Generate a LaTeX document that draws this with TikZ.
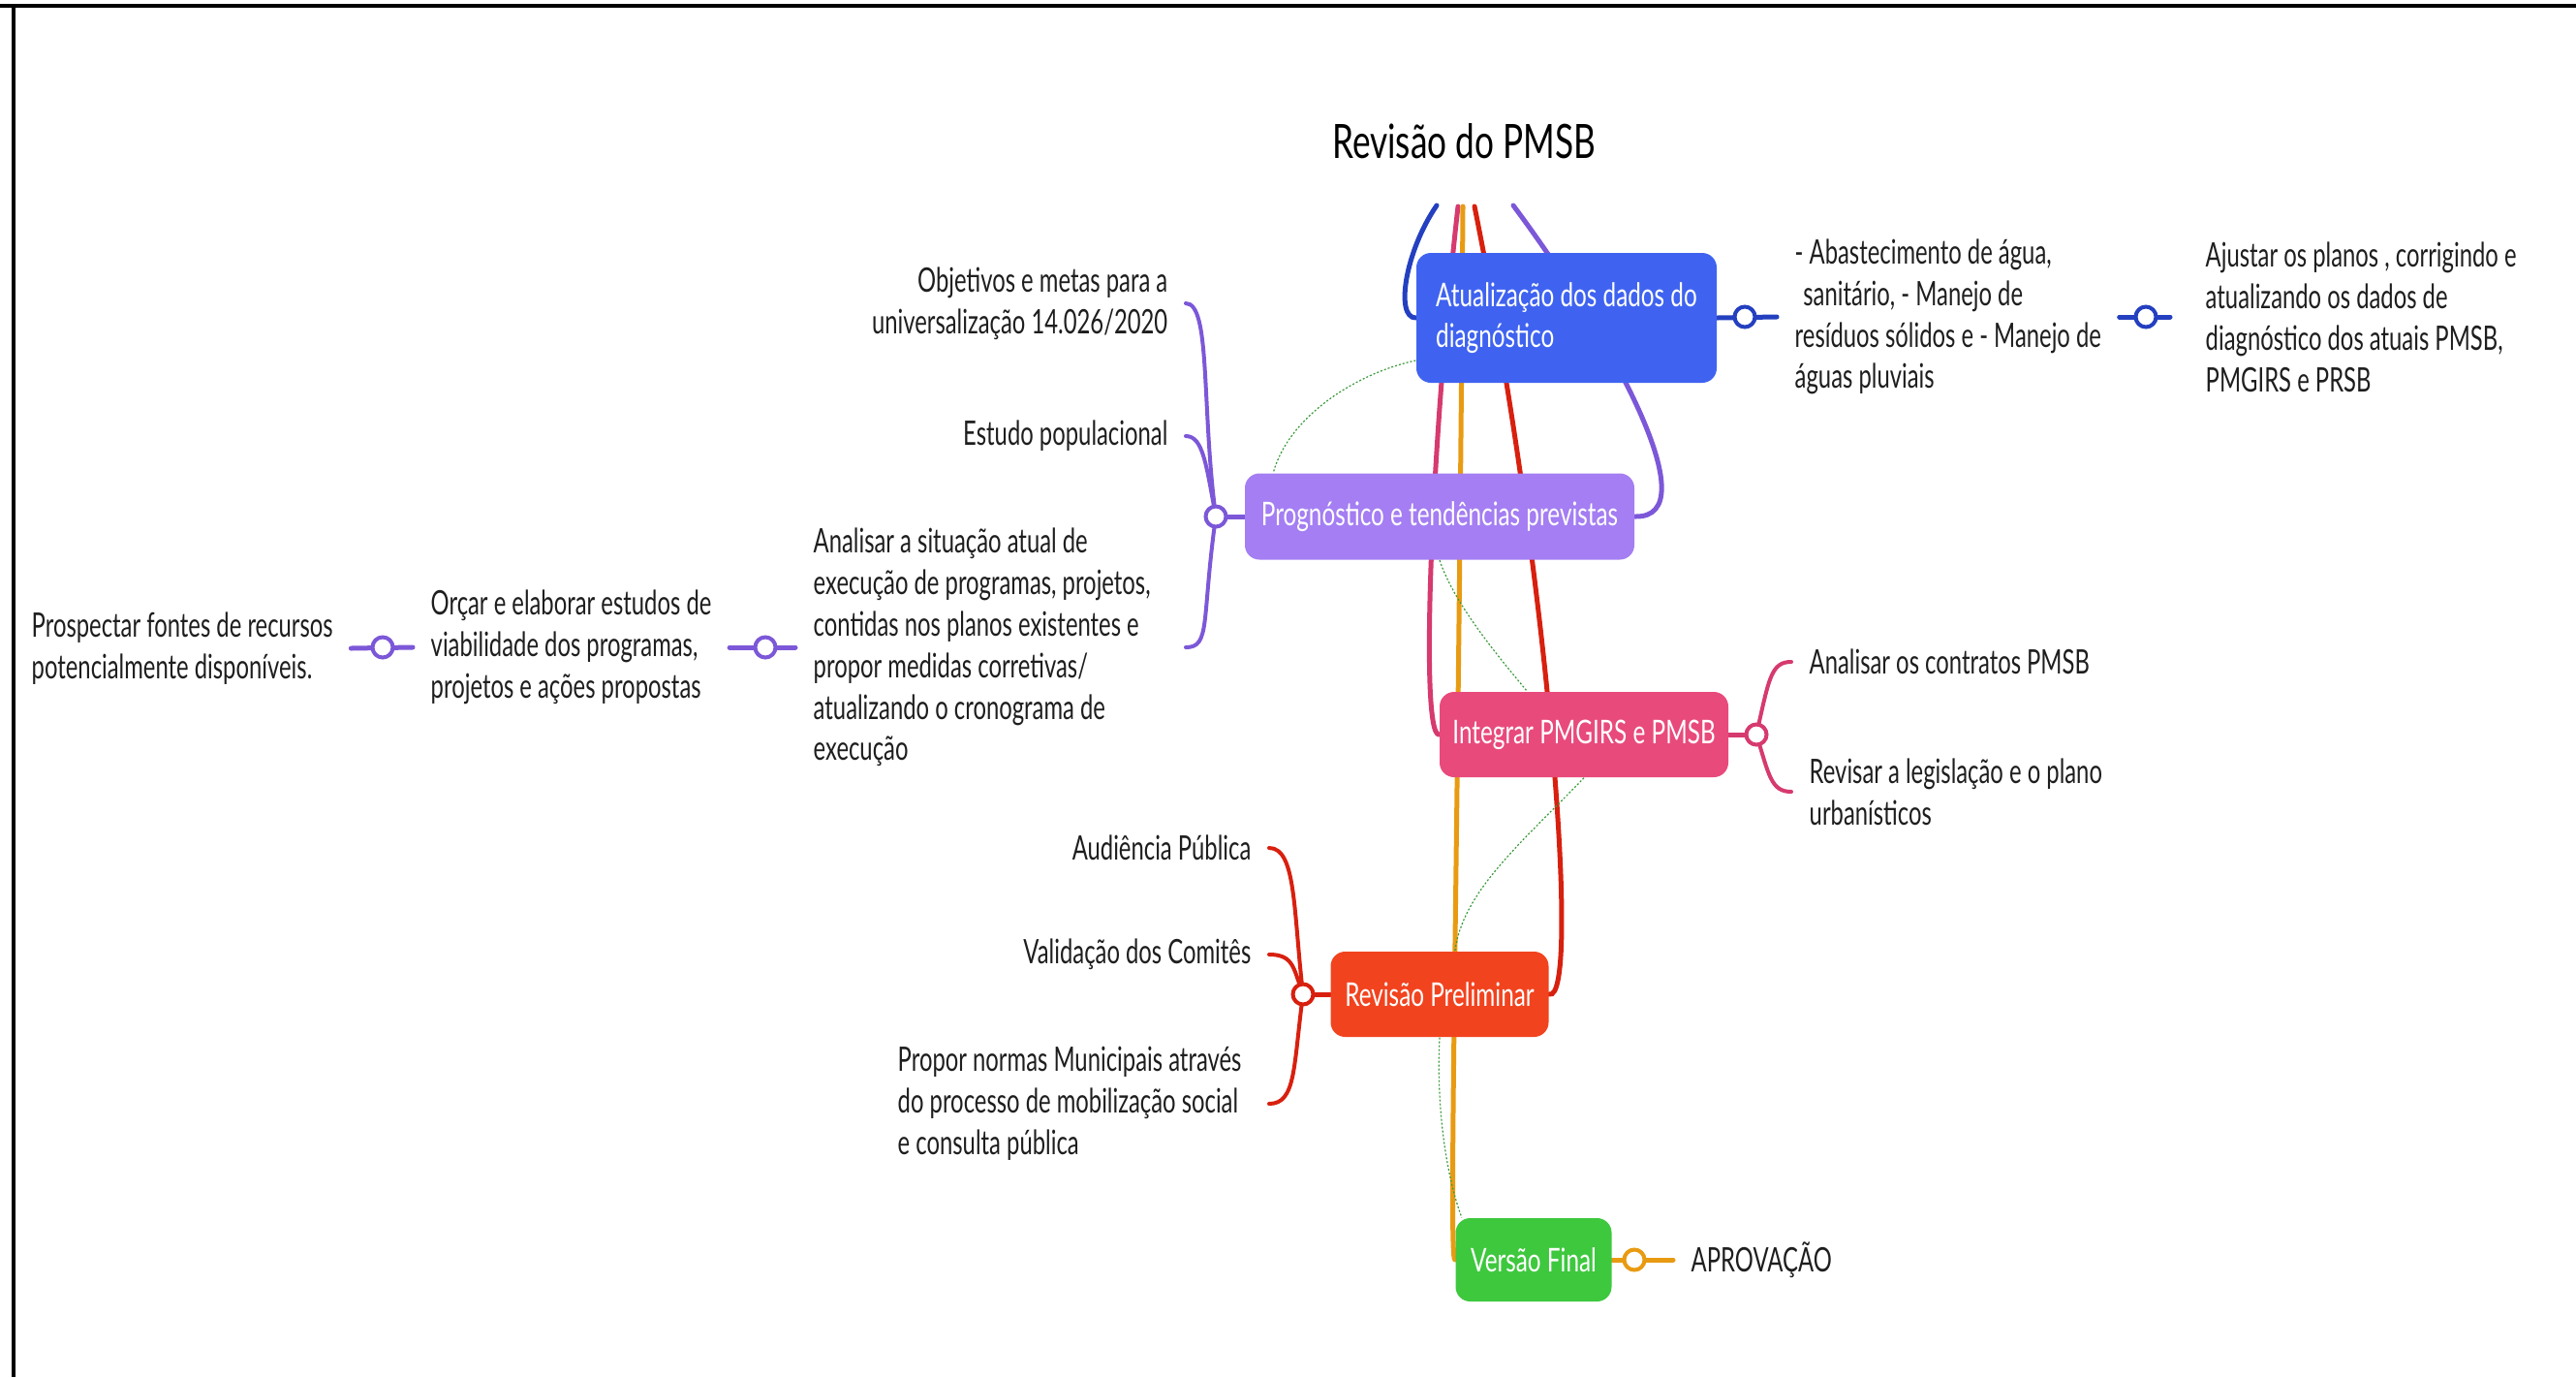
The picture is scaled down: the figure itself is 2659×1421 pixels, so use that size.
\documentclass[tikz,border=0pt]{standalone}
\usepackage{fontspec}
\setmainfont{Lato}[FakeStretch=0.72]
\newfontfamily\leaffam{Lato}[FakeStretch=0.685]
\usetikzlibrary{calc}
\definecolor{bluebox}{HTML}{3F63F0}
\definecolor{blueln}{HTML}{2440C0}
\definecolor{purbox}{HTML}{A47EF2}
\definecolor{purln}{HTML}{7C58D8}
\definecolor{pinkbox}{HTML}{E84A7C}
\definecolor{pinkln}{HTML}{D63A6E}
\definecolor{redbox}{HTML}{F2431F}
\definecolor{redln}{HTML}{D8200F}
\definecolor{greenbox}{HTML}{3EC83E}
\definecolor{orangeln}{HTML}{E89B12}
\definecolor{relgreen}{HTML}{3A9A3A}
\definecolor{txt}{HTML}{1E1E1E}
\newcommand\mmleaffont{\leaffam\fontsize{9.9}{12.2}\selectfont}
\newcommand\mmboxfont{\fontsize{9.6}{12}\selectfont}
\pgfdeclarelayer{bg}
\pgfsetlayers{bg,main}
\tikzset{
  box/.style={rounded corners=1.5mm, inner sep=0pt, text=white, font=\mmboxfont},
  leaf/.style={inner xsep=1.8mm, inner ysep=0pt, text=txt, font=\mmleaffont},
  knob/.style={circle, draw, line width=0.4mm, fill=white, minimum size=2.1mm, inner sep=0pt},
  branch/.style={line width=0.5mm, line cap=round},
  brace/.style={line width=0.4mm, line cap=round},
  rel/.style={draw=relgreen, line width=0.12mm, dash pattern=on 0.2mm off 0.2mm},
}
\begin{document}
\begin{tikzpicture}[x=0.1mm,y=-0.1mm]
\useasboundingbox (0,0) rectangle (2659,1421);
% frame
\draw[line width=0.45mm, black] (0,6) -- (2659,6);
\draw[line width=0.4mm, black] (14,6) -- (14,1421);

% root
\node[font=\fontsize{13.9}{16}\selectfont, text=black] (root) at (1511,146) {Revisão do PMSB};
\coordinate (r1) at (1483,212);
\coordinate (r2) at (1505,213);
\coordinate (r3) at (1510,213);
\coordinate (r4) at (1522,213);
\coordinate (r5) at (1562,212);

% boxes
\node[box, fill=bluebox, minimum width=31mm, minimum height=13.4mm, align=left] (blue) at (1617,328) {Atualização dos dados do\\diagnóstico};
\node[box, fill=purbox, minimum width=40.2mm, minimum height=8.9mm] (pur) at (1486,533) {Prognóstico e tendências previstas};
\node[box, fill=pinkbox, minimum width=29.8mm, minimum height=8.8mm] (pink) at (1635,758) {Integrar PMGIRS e PMSB};
\node[box, fill=redbox, minimum width=22.5mm, minimum height=8.8mm] (red) at (1486,1026) {Revisão Preliminar};
\node[box, fill=greenbox, minimum width=16.1mm, minimum height=8.6mm] (green) at (1583,1300) {Versão Final};

% knobs
\node[knob, draw=blueln] (bk1) at (1801,327) {};
\node[knob, draw=blueln] (bk2) at (2215,327) {};
\node[knob, draw=purln] (pk1) at (1255,533) {};
\node[knob, draw=purln] (pk2) at (790,668) {};
\node[knob, draw=purln] (pk3) at (395,668) {};
\node[knob, draw=pinkln] (kk) at (1813,758) {};
\node[knob, draw=redln] (rk) at (1345,1026) {};
\node[knob, draw=orangeln] (ok) at (1687,1300) {};

% leaves
\node[leaf, anchor=west, align=left] (b1) at (1834,327) {- Abastecimento de água,\\\hspace*{0.25em}sanitário, - Manejo de\\resíduos sólidos e - Manejo de\\águas pluviais};
\node[leaf, anchor=west, align=left] (b2) at (2258,327) {Ajustar os planos , corrigindo e\\atualizando os dados de\\diagnóstico dos atuais PMSB,\\PMGIRS e PRSB};
\node[leaf, anchor=east, align=right] (p1) at (1224,313) {Objetivos e metas para a\\universalização 14.026/2020};
\node[leaf, anchor=east] (p2) at (1224,450) {Estudo populacional};
\node[leaf, anchor=west, align=left] (p3) at (821,668) {Analisar a situação atual de\\execução de programas, projetos,\\contidas nos planos existentes e\\propor medidas corretivas/\\atualizando o cronograma de\\execução};
\node[leaf, anchor=west, align=left] (o1) at (426,668) {Orçar e elaborar estudos de\\viabilidade dos programas,\\projetos e ações propostas};
\node[leaf, anchor=west, align=left] (pr) at (14,669) {Prospectar fontes de recursos\\potencialmente disponíveis.};
\node[leaf, anchor=west] (k1) at (1849,683) {Analisar os contratos PMSB};
\node[leaf, anchor=west, align=left] (k2) at (1849,817) {Revisar a legislação e o plano\\urbanísticos};
\node[leaf, anchor=east] (ra) at (1310,875) {Audiência Pública};
\node[leaf, anchor=east] (rv) at (1310,985) {Validação dos Comitês};
\node[leaf, anchor=west, align=left] (rp) at (908,1139) {Propor normas Municipais através\\do processo de mobilização social\\e consulta pública};
\node[leaf, anchor=west] (ap) at (1727,1300) {APROVAÇÃO};

\begin{pgfonlayer}{bg}
% main branches
\draw[branch, blueln] (r1) .. controls (1450,260) and (1440,328) .. (blue.west);
\draw[branch, pinkln] (r2) .. controls (1478,450) and (1465,758) .. (pink.west);
\draw[branch, orangeln] (r3) .. controls (1505,900) and (1495,1300) .. (green.west);
\draw[branch, redln] (r4) .. controls (1600,600) and (1632,1035) .. (red.east);
\draw[branch, purln] (r5) .. controls (1665,350) and (1765,535) .. (pur.east);
% stubs
\draw[branch, blueln] (blue.east) -- (b1.west);
\draw[branch, blueln, shorten >=1.8mm] (b1.east) -- (b2.west);
\draw[branch, purln] (pur.west) -- (pk1.center);
\draw[branch, purln] (p3.west) -- (o1.east);
\draw[branch, purln] (o1.west) -- (pr.east);
\draw[branch, pinkln] (pink.east) -- (kk.center);
\draw[branch, redln] (red.west) -- (rk.center);
\draw[branch, orangeln] (green.east) -- (ap.west);
% braces
\draw[brace, purln] (pk1.center) .. controls (1240,420) and (1250,313) .. (p1.east);
\draw[brace, purln] (pk1.center) .. controls (1245,480) and (1242,450) .. (p2.east);
\draw[brace, purln] (pk1.center) .. controls (1240,640) and (1250,668) .. (p1.east |- p3.east);
\draw[brace, pinkln] (kk.center) .. controls (1826,700) and (1828,683) .. (k1.west);
\draw[brace, pinkln] (kk.center) .. controls (1826,800) and (1828,817) .. (k2.west);
\draw[brace, redln] (rk.center) .. controls (1335,940) and (1338,875) .. (ra.east);
\draw[brace, redln] (rk.center) .. controls (1335,1000) and (1336,985) .. (rv.east);
\draw[brace, redln] (rk.center) .. controls (1335,1100) and (1338,1139) .. (ra.east |- rp.east);
% relationships
\draw[rel] ($(blue.west)+(0,44)$) .. controls (1400,385) and (1330,430) .. ($(pur.north west)+(30,0)$);
\draw[rel] (pur.south) .. controls (1500,620) and (1540,670) .. ($(pink.north west)+(91,0)$);
\draw[rel] (pink.south) .. controls (1570,870) and (1510,920) .. ($(red.north west)+(129,0)$);
\draw[rel] (red.south) .. controls (1482,1150) and (1495,1220) .. ($(green.north west)+(7,0)$);
\end{pgfonlayer}
\end{tikzpicture}
\end{document}
